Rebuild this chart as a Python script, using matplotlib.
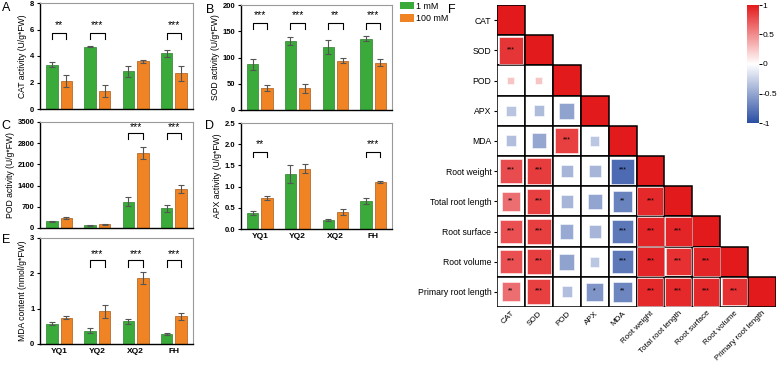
import matplotlib
matplotlib.use("Agg")
import matplotlib.pyplot as plt
import numpy as np
from matplotlib.patches import Rectangle, Patch
from matplotlib.colors import LinearSegmentedColormap
from matplotlib.cm import ScalarMappable
from matplotlib.colors import Normalize

plt.rcParams['font.family'] = ['Liberation Sans', 'DejaVu Sans']

# ---------------- data ----------------
cultivars = ["YQ1", "YQ2", "XQ2", "FH"]
series = ["1 mM", "100 mM"]

cat_1 = [3.35, 4.70, 2.85, 4.20]
cat_1_err = [0.20, 0.05, 0.40, 0.25]
cat_100 = [2.10, 1.35, 3.60, 2.70]
cat_100_err = [0.45, 0.45, 0.10, 0.55]
cat_sig = ["**", "***", "", "***"]

sod_1 = [87, 132, 120, 136]
sod_1_err = [10, 8, 13, 5]
sod_100 = [42, 41, 94, 90]
sod_100_err = [5, 9, 5, 7]
sod_sig = ["***", "***", "**", "***"]

pod_1 = [220, 90, 870, 650]
pod_1_err = [20, 15, 150, 120]
pod_100 = [330, 120, 2480, 1300]
pod_100_err = [30, 15, 200, 130]
pod_sig = ["", "", "***", "***"]

apx_1 = [0.37, 1.30, 0.21, 0.65]
apx_1_err = [0.05, 0.22, 0.02, 0.07]
apx_100 = [0.73, 1.42, 0.40, 1.11]
apx_100_err = [0.04, 0.11, 0.06, 0.02]
apx_sig = ["**", "", "", "***"]

mda_1 = [0.58, 0.38, 0.64, 0.28]
mda_1_err = [0.04, 0.07, 0.06, 0.03]
mda_100 = [0.75, 0.92, 1.87, 0.78]
mda_100_err = [0.04, 0.19, 0.16, 0.10]
mda_sig = ["", "***", "***", "***"]

# correlation heatmap (lower triangle, row by row)
traits = ["CAT", "SOD", "POD", "APX", "MDA", "Root weight", "Total root length",
          "Root surface", "Root volume", "Primary root length"]
corr_rows = [
    [],
    [0.88],
    [0.25, 0.25],
    [-0.33, -0.38, -0.52],
    [-0.36, -0.50, 0.83, -0.32],
    [0.78, 0.85, -0.42, -0.42, -0.83],
    [0.63, 0.83, -0.42, -0.51, -0.70, 0.93],
    [0.76, 0.84, -0.48, -0.42, -0.76, 0.95, 0.95],
    [0.76, 0.84, -0.52, -0.32, -0.76, 0.95, 0.90, 0.95],
    [0.63, 0.83, -0.36, -0.60, -0.68, 0.93, 0.93, 0.93, 0.90],
]
sig_rows = [
    [],
    ["***"],
    ["", ""],
    ["", "", ""],
    ["", "", "***", ""],
    ["***", "***", "", "", "***"],
    ["**", "***", "", "", "**", "***"],
    ["***", "***", "", "", "***", "***", "***"],
    ["***", "***", "", "", "***", "***", "***", "***"],
    ["**", "***", "", "*", "**", "***", "***", "***", "***"],
]

# ---------------- style ----------------
GREEN = "#3aaa3a"
ORANGE = "#f08424"
W, H = 779, 365
fig = plt.figure(figsize=(W / 100, H / 100), dpi=100)


def axpos(l, t, r, b):
    return [l / W, 1 - b / H, (r - l) / W, (b - t) / H]


def bar_panel(rect, v1, e1, v2, e2, sig, ymax, yticks, ytlabels, ylabel, letter,
              letter_xy, showx, bracket_frac):
    ax = fig.add_axes(axpos(*rect))
    x = np.arange(len(cultivars))
    off, bw = 0.19, 0.30
    ekw = dict(ecolor="#555555", elinewidth=0.8, capsize=2.5, capthick=0.8)
    ax.bar(x - off, v1, bw, color=GREEN, edgecolor="#2f7f2f", linewidth=0.5,
           yerr=e1, error_kw=ekw)
    ax.bar(x + off, v2, bw, color=ORANGE, edgecolor="#a85a15", linewidth=0.5,
           yerr=e2, error_kw=ekw)
    ax.set_xlim(-0.5, 3.5)
    ax.set_ylim(0, ymax)
    ax.set_yticks(yticks)
    ax.set_yticklabels(ytlabels, fontsize=5.5, fontweight="bold")
    ax.tick_params(axis="y", length=2.5, width=0.8, pad=1.5)
    if showx:
        ax.set_xticks(x)
        ax.set_xticklabels(cultivars, fontsize=6, fontweight="bold")
        ax.tick_params(axis="x", length=0, pad=3)
    else:
        ax.set_xticks([])
    for s in ["left", "bottom"]:
        ax.spines[s].set_linewidth(1.0)
    for s in ["top", "right"]:
        ax.spines[s].set_color("#9a9a9a")
        ax.spines[s].set_linewidth(0.8)
    ax.set_ylabel(ylabel, fontsize=6.2, labelpad=2)
    lo, hi, st = bracket_frac
    for i, s in enumerate(sig):
        if not s:
            continue
        ax.plot([i - off, i - off, i + off, i + off],
                [lo * ymax, hi * ymax, hi * ymax, lo * ymax], color="black", lw=0.8)
        ax.text(i, st * ymax, s, ha="center", va="center", fontsize=7.5)
    fig.text(letter_xy[0] / W, 1 - letter_xy[1] / H, letter, fontsize=9,
             ha="center", va="center")
    return ax


bar_panel((40, 3, 193, 109), cat_1, cat_1_err, cat_100, cat_100_err, cat_sig,
          8, [0, 2, 4, 6, 8], ["0", "2", "4", "6", "8"],
          "CAT activity (U/g*FW)", "A", (6, 8), False, (0.66, 0.715, 0.79))
bar_panel((241, 5, 392, 110), sod_1, sod_1_err, sod_100, sod_100_err, sod_sig,
          200, [0, 50, 100, 150, 200], ["0", "50", "100", "150", "200"],
          "SOD activity (U/g*FW)", "B", (210, 10), False, (0.77, 0.83, 0.905))
bar_panel((40, 122, 193, 228), pod_1, pod_1_err, pod_100, pod_100_err, pod_sig,
          3500, [0, 700, 1400, 2100, 2800, 3500],
          ["0", "700", "1400", "2100", "2800", "3500"],
          "POD activity (U/g*FW)", "C", (6, 126), False, (0.84, 0.895, 0.95))
bar_panel((241, 123, 392, 229), apx_1, apx_1_err, apx_100, apx_100_err, apx_sig,
          2.5, [0.0, 0.5, 1.0, 1.5, 2.0, 2.5],
          ["0.0", "0.5", "1.0", "1.5", "2.0", "2.5"],
          "APX activity (U/g*FW)", "D", (210, 126), True, (0.68, 0.73, 0.80))
bar_panel((40, 238, 193, 344), mda_1, mda_1_err, mda_100, mda_100_err, mda_sig,
          3, [0, 1, 2, 3], ["0", "1", "2", "3"],
          "MDA content (nmol/g*FW)", "E", (6, 240), True, (0.73, 0.79, 0.85))

# legend
fig.legend(handles=[Patch(facecolor=GREEN, edgecolor="none", label=series[0]),
                    Patch(facecolor=ORANGE, edgecolor="none", label=series[1])],
           loc="upper left", bbox_to_anchor=(398 / W, 1 - 0 / H), frameon=False,
           fontsize=6.4, handlelength=1.6, handleheight=0.9, handletextpad=0.2,
           labelspacing=0.35, borderaxespad=0, borderpad=0.2)

# ---------------- heatmap ----------------
cmap = LinearSegmentedColormap.from_list("rb", ["#2a4ea3", "#ffffff", "#e31a1c"])
norm = Normalize(-1, 1)
axH = fig.add_axes(axpos(497, 5, 776, 307))
n = len(traits)
for i in range(n):
    for j in range(i + 1):
        if i == j:
            axH.add_patch(Rectangle((j, i), 1, 1, facecolor=cmap(norm(1.0)),
                                    edgecolor="black", lw=1.1, zorder=3))
            continue
        axH.add_patch(Rectangle((j, i), 1, 1, facecolor="white",
                                edgecolor="black", lw=1.1, zorder=3))
        r = corr_rows[i][j]
        s = abs(r)
        axH.add_patch(Rectangle((j + 0.5 - s / 2, i + 0.5 - s / 2), s, s,
                                facecolor=cmap(norm(r)), edgecolor=(1, 1, 1, 0.6),
                                lw=0.6, zorder=4))
        if sig_rows[i][j]:
            axH.text(j + 0.5, i + 0.47, sig_rows[i][j], ha="center", va="center",
                     fontsize=5, zorder=5)
axH.set_xlim(0, n)
axH.set_ylim(n, 0)
for s in axH.spines.values():
    s.set_visible(False)
axH.set_xticks(np.arange(n) + 0.5)
axH.set_xticklabels(traits, rotation=45, ha="right", va="top",
                    rotation_mode="anchor", fontsize=5.8)
axH.set_yticks(np.arange(n) + 0.5)
axH.set_yticklabels(traits, fontsize=6.2)
axH.tick_params(axis="y", length=2.5, width=0.8, pad=1.5)
axH.tick_params(axis="x", length=0, pad=2)
fig.text(452 / W, 1 - 10 / H, "F", fontsize=9, ha="center", va="center")

# colorbar
axC = fig.add_axes(axpos(747, 5, 759, 123))
cb = fig.colorbar(ScalarMappable(norm=norm, cmap=cmap), cax=axC)
cb.outline.set_visible(False)
cb.set_ticks([1, 0.5, 0, -0.5, -1])
cb.set_ticklabels(["1", "0.5", "0", "-0.5", "-1"])
axC.tick_params(labelsize=6, length=2, width=0.7, pad=0.5)

fig.savefig("out.png", dpi=100)
